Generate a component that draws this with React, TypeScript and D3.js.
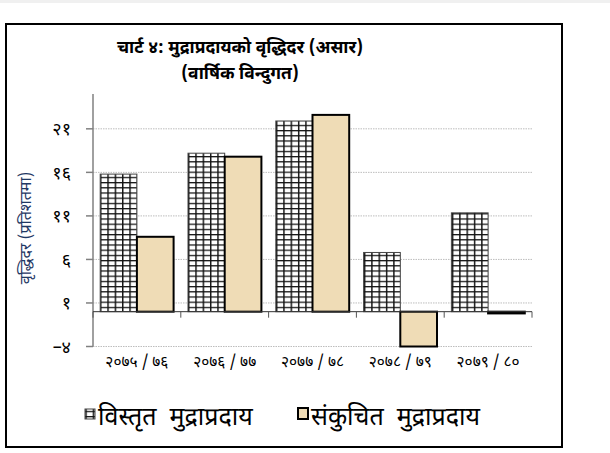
import React from "react";
import * as d3 from "d3";

const categories = ["२०७५/७६", "२०७६/७७", "२०७७/७८", "२०७८/७९", "२०७९/८०"];
const broadMoney = [15.8, 18.2, 21.9, 6.8, 11.35];
const narrowMoney = [8.6, 17.8, 22.6, -4.3, -0.2];
const yTickValues = [-4, 1, 6, 11, 16, 21];
const toDev = (n: number) =>
  String(n)
    .replace(/-/g, "–")
    .replace(/[0-9]/g, (d) => "०१२३४५६७८९"[+d]);
const seriesNames = ["विस्तृत मुद्राप्रदाय", "संकुचित मुद्राप्रदाय"];
const titleLines = ["चार्ट ४: मुद्राप्रदायको वृद्धिदर (असार)", "(वार्षिक विन्दुगत)"];
const yLabel = "वृद्धिदर (प्रतिशतमा)";

const DEV = "'Noto Sans Devanagari', 'Lohit Devanagari', 'Mangal', 'Noto Sans', sans-serif";
const TAN = "#EFDCB6";

export default function App() {
  const W = 610, H = 453;
  const x0 = 93, x1 = 532;
  const x = d3.scaleBand<string>().domain(categories).range([x0, x1]).paddingInner(0).paddingOuter(0);
  const y = d3.scaleLinear().domain([-4, 25]).range([346.5, 94]).clamp(true);
  const bw = 36.7;
  const inner = d3.scaleBand<number>().domain([0, 1]).range([0, bw * 2]);
  const off = (x.bandwidth() - bw * 2) / 2;

  const bar = (v: number) => {
    const a = y(0), b = y(v);
    return { y: Math.min(a, b), h: Math.abs(a - b) };
  };

  return (
    <svg width={W} height={H} style={{ position: "absolute", left: 0, top: 0 }}>
      <defs>
        <pattern id="grid" patternUnits="userSpaceOnUse" width={7.33} height={5.2} x={100} y={0}>
          <rect width={7.33} height={5.2} fill="#fff" />
          <line x1={0.7} y1={0} x2={0.7} y2={5.2} stroke="#111" strokeWidth={1.5} />
          <line x1={0} y1={0.6} x2={7.33} y2={0.6} stroke="#111" strokeWidth={1.3} />
        </pattern>
      </defs>
      <rect x={0} y={0} width={W} height={H} fill="#fff" />
      <rect x={0} y={0} width={W} height={3} fill="#f0f0f0" />
      <rect x={6} y={24} width={556} height={423} fill="#fff" stroke="#000" strokeWidth={2} />

      {titleLines.map((t, i) => (
        <text key={i} x={240} y={53 + i * 26} textAnchor="middle" fontFamily={DEV} fontWeight="bold" fontSize={17.5} fill="#000">
          {t}
        </text>
      ))}

      {/* gridlines */}
      {yTickValues.map((v) => (
        <line key={v} x1={x0} x2={x1} y1={y(v)} y2={y(v)} stroke="#bdbdbd" strokeWidth={1} strokeDasharray="1.5,1" />
      ))}

      {/* y axis */}
      <line x1={x0} x2={x0} y1={94} y2={y(-4)} stroke="#808080" strokeWidth={1.5} />
      {yTickValues.map((v) => (
        <g key={v}>
          <line x1={86} x2={x0} y1={y(v)} y2={y(v)} stroke="#808080" strokeWidth={1.5} />
          <text x={71} y={y(v)} dy="0.35em" textAnchor="end" fontFamily={DEV} fontSize={18} fill="#000">
            {toDev(v)}
          </text>
        </g>
      ))}
      <text transform={`translate(25,228) rotate(-90)`} textAnchor="middle" dy="0.35em" fontFamily={DEV} fontSize={16} fill="#1f3864">
        {yLabel}
      </text>

      {/* bars */}
      {categories.map((c, i) => {
        const bx = (x(c) as number) + off;
        const a = bar(broadMoney[i]);
        const b = bar(narrowMoney[i]);
        return (
          <g key={c}>
            <rect x={bx + (inner(0) as number)} y={a.y} width={bw} height={a.h} fill="url(#grid)" stroke="#444" strokeWidth={1} />
            <rect x={bx + (inner(1) as number)} y={b.y} width={bw} height={b.h} fill={TAN} stroke="#000" strokeWidth={2} />
          </g>
        );
      })}

      {/* x axis */}
      <line x1={x0} x2={x1} y1={y(0)} y2={y(0)} stroke="#333" strokeWidth={1} />
      {[...categories.map((c) => x(c) as number), x1].map((t, i) => (
        <line key={i} x1={t} x2={t} y1={y(0)} y2={y(0) + 6} stroke="#555" strokeWidth={1} />
      ))}
      {categories.map((c) => (
        <text key={c} x={(x(c) as number) + x.bandwidth() / 2} y={367} textAnchor="middle" fontFamily={DEV} fontSize={15.5} fill="#000">
          {c.replace("/", " / ")}
        </text>
      ))}

      {/* legend */}
      <rect x={85} y={409} width={10} height={10} fill="url(#grid)" stroke="#444" strokeWidth={1} />
      <text x={98} y={425} fontFamily={DEV} fontSize={25} fill="#000">{seriesNames[0].replace(" ", "\u00a0\u00a0")}</text>
      <rect x={298} y={408} width={10} height={11} fill={TAN} stroke="#000" strokeWidth={2} />
      <text x={311} y={425} fontFamily={DEV} fontSize={25} fill="#000">{seriesNames[1].replace(" ", "\u00a0\u00a0")}</text>
    </svg>
  );
}
